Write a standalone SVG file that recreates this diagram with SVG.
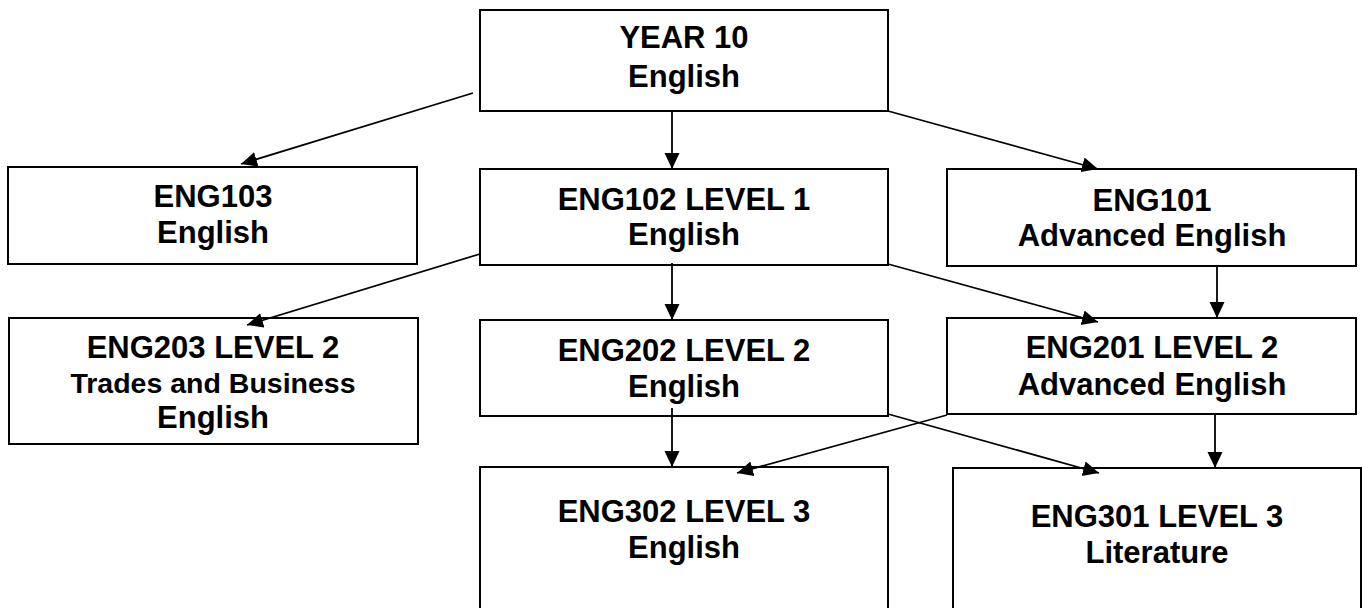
<svg xmlns="http://www.w3.org/2000/svg" width="1362" height="608" viewBox="0 0 1362 608">
<style>
.box{fill:#fff;stroke:#000;stroke-width:2}
.t{font-family:"Liberation Sans",Arial,sans-serif;font-weight:bold;font-size:31px;text-anchor:middle;fill:#000}
.s{font-size:28.5px}
.c{stroke:#000;stroke-width:1.8;fill:none;marker-end:url(#ah)}
</style>
<defs>
<marker id="ah" markerUnits="userSpaceOnUse" markerWidth="17" markerHeight="16" refX="16" refY="7.5" orient="auto">
<path d="M0,0 L16,7.5 L0,15 z" fill="#000"/>
</marker>
</defs>
<rect width="1362" height="608" fill="#fff"/>
<g id="year10">
<rect class="box" x="480" y="10" width="408" height="101"/>
<text class="t" x="684" y="48">YEAR 10</text>
<text class="t" x="684" y="87">English</text>
</g>
<g id="eng103">
<rect class="box" x="8" y="167" width="409" height="97"/>
<text class="t" x="213" y="207">ENG103</text>
<text class="t" x="213" y="243">English</text>
</g>
<g id="eng102">
<rect class="box" x="480" y="169" width="408" height="96"/>
<text class="t" x="684" y="210">ENG102 LEVEL 1</text>
<text class="t" x="684" y="245">English</text>
</g>
<g id="eng101">
<rect class="box" x="947" y="169" width="409" height="97"/>
<text class="t" x="1152" y="211">ENG101</text>
<text class="t" x="1152" y="246">Advanced English</text>
</g>
<g id="eng203">
<rect class="box" x="9" y="318" width="409" height="126"/>
<text class="t" x="213" y="358">ENG203 LEVEL 2</text>
<text class="t s" x="213" y="393">Trades and Business</text>
<text class="t" x="213" y="428">English</text>
</g>
<g id="eng202">
<rect class="box" x="480" y="320" width="408" height="96"/>
<text class="t" x="684" y="361">ENG202 LEVEL 2</text>
<text class="t" x="684" y="397">English</text>
</g>
<g id="eng201">
<rect class="box" x="947" y="318" width="409" height="96"/>
<text class="t" x="1152" y="358">ENG201 LEVEL 2</text>
<text class="t" x="1152" y="395">Advanced English</text>
</g>
<g id="eng302">
<rect class="box" x="480" y="467" width="408" height="150"/>
<text class="t" x="684" y="522">ENG302 LEVEL 3</text>
<text class="t" x="684" y="558">English</text>
</g>
<g id="eng301">
<rect class="box" x="953" y="468" width="408" height="150"/>
<text class="t" x="1157" y="527">ENG301 LEVEL 3</text>
<text class="t" x="1157" y="563">Literature</text>
</g>
<g id="connectors">
<line class="c" x1="473" y1="93" x2="241" y2="164"/>
<line class="c" x1="672" y1="111" x2="672" y2="169"/>
<line class="c" x1="888" y1="111" x2="1098" y2="169"/>
<line class="c" x1="480" y1="254" x2="247" y2="325"/>
<line class="c" x1="672" y1="263" x2="672" y2="320"/>
<line class="c" x1="888" y1="264" x2="1098" y2="322"/>
<line class="c" x1="1217" y1="266" x2="1217" y2="318"/>
<line class="c" x1="672" y1="408" x2="672" y2="467"/>
<line class="c" x1="947" y1="415" x2="737" y2="473"/>
<line class="c" x1="888" y1="414" x2="1099" y2="473"/>
<line class="c" x1="1215" y1="414" x2="1215" y2="468"/>
</g>
</svg>
